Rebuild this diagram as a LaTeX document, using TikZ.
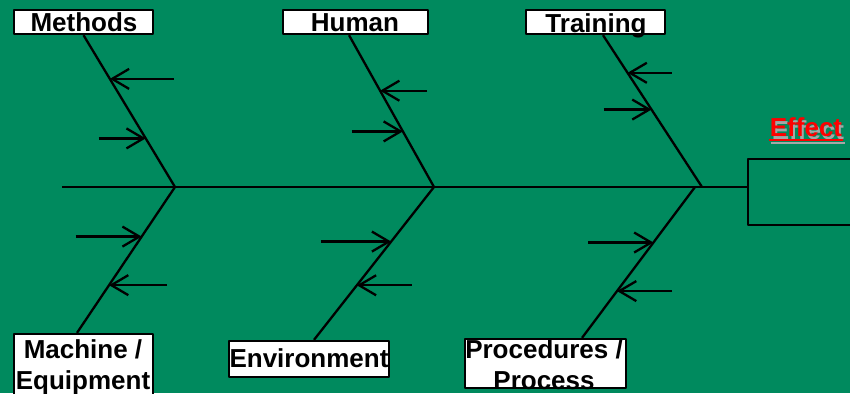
\documentclass[tikz,border=0pt]{standalone}
\usepackage{fontspec}
\setmainfont{Liberation Sans}
\usetikzlibrary{arrows.meta,calc}
\definecolor{fishgreen}{RGB}{0,138,94}
\tikzset{
  causebox/.style={draw,fill=white,inner sep=0pt,minimum height=24pt},
  causetext/.style={font=\bfseries\fontsize{26}{31}\selectfont,align=center,inner sep=0pt,anchor=base},
  barb/.style={-{Straight Barb[length=17pt,width=20pt]}},
}
\begin{document}
\begin{tikzpicture}[x=1pt,y=-1pt,line width=2.3pt,line join=round]
  \useasboundingbox (0,0) rectangle (850,393);
  \fill[fishgreen] (0,0) rectangle (850,393);
  \clip (0,0) rectangle (850,393);
  \node[causebox,minimum width=139pt] (methods) at (83.5,22) {};
  \node[causebox,minimum width=145pt] (human) at (355.5,22) {};
  \node[causebox,minimum width=139pt] (training) at (595.5,22) {};
  \node[causebox,minimum width=139pt,minimum height=70pt] (machine) at (83.5,369) {};
  \node[causebox,minimum width=160pt,minimum height=36pt] (environ) at (309,359) {};
  \node[causebox,minimum width=161pt,minimum height=49pt] (procs) at (545.5,363.5) {};
  \node[draw,inner sep=0pt,minimum width=122pt,minimum height=66pt] (effbox) at (809,192) {};
  \node[causetext] (methodst) at (84,32) {Methods};
  \node[causetext] (humant) at (355,32) {Human};
  \node[causetext] (trainingt) at (596,33) {Training};
  \node[causetext] (machinet) at (83,389) {Machine /\\Equipment};
  \node[causetext] (environt) at (309,367) {Environment};
  \node[causetext] (procst) at (544,389) {Procedures /\\Process};
  \node[causetext,text=black!35] (effshadow) at (808,139) {Effect};
  \node[causetext,text=red] (effect) at (806,136) {Effect};
  \draw[black!35,line width=2.5pt] ([yshift=-4pt]effshadow.base west) -- ([yshift=-4pt]effshadow.base east);
  \draw[red,line width=2.5pt] ([yshift=-4pt]effect.base west) -- ([yshift=-4pt]effect.base east);
  \coordinate (tail) at (62,187);
  \coordinate (j1) at (175,187);
  \coordinate (j2) at (434,187);
  \coordinate (j3) at (702,187);
  \coordinate (j4) at (695,187);
  \draw (tail) -- (tail -| effbox.west);
  \draw (methods.south) -- (j1) -- ([xshift=-6.5pt]machine.north);
  \draw ([xshift=-6.5pt]human.south) -- (j2) -- ([xshift=5pt]environ.north);
  \draw ([xshift=7.5pt]training.south) -- (j3);
  \draw (j4) -- ([xshift=36.5pt]procs.north);
  \coordinate (m1) at ($(methods.south)!.288!(j1)$);
  \coordinate (m2) at ($(methods.south)!.68!(j1)$);
  \coordinate (q1) at ($(j1)!.34!([xshift=-6.5pt]machine.north)$);
  \coordinate (q2) at ($(j1)!.673!([xshift=-6.5pt]machine.north)$);
  \coordinate (h1) at ($([xshift=-6.5pt]human.south)!.366!(j2)$);
  \coordinate (h2) at ($([xshift=-6.5pt]human.south)!.634!(j2)$);
  \coordinate (e1) at ($(j2)!.357!([xshift=5pt]environ.north)$);
  \coordinate (e2) at ($(j2)!.643!([xshift=5pt]environ.north)$);
  \coordinate (t1) at ($([xshift=7.5pt]training.south)!.248!(j3)$);
  \coordinate (t2) at ($([xshift=7.5pt]training.south)!.49!(j3)$);
  \coordinate (p1) at ($(j4)!.368!([xshift=36.5pt]procs.north)$);
  \coordinate (p2) at ($(j4)!.69!([xshift=36.5pt]procs.north)$);
  \draw[barb] ($(m1)+(64,0)$) -- (m1);
  \draw[barb] ($(m2)+(-47,0)$) -- (m2);
  \draw[barb] ($(q1)+(-66,0)$) -- (q1);
  \draw[barb] ($(q2)+(58,0)$) -- (q2);
  \draw[barb] ($(h1)+(47,0)$) -- (h1);
  \draw[barb] ($(h2)+(-51,0)$) -- (h2);
  \draw[barb] ($(e1)+(-70,0)$) -- (e1);
  \draw[barb] ($(e2)+(55,0)$) -- (e2);
  \draw[barb] ($(t1)+(44,0)$) -- (t1);
  \draw[barb] ($(t2)+(-48,0)$) -- (t2);
  \draw[barb] ($(p1)+(-65,0)$) -- (p1);
  \draw[barb] ($(p2)+(55,0)$) -- (p2);
\end{tikzpicture}
\end{document}
